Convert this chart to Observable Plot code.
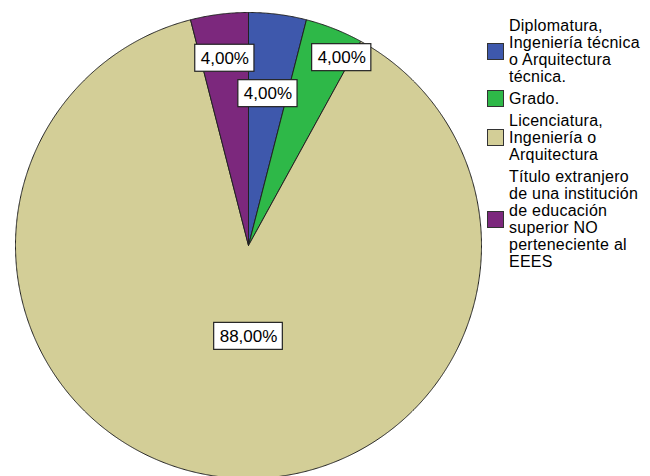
<!DOCTYPE html>
<html>
<head>
<meta charset="utf-8">
<script src="https://cdn.jsdelivr.net/npm/d3@7"></script>
<script src="https://cdn.jsdelivr.net/npm/@observablehq/plot@0.6"></script>
<style>
  html, body { margin: 0; padding: 0; background: #fff; }
  #wrap { position: relative; width: 650px; height: 476px; overflow: hidden; font-family: "Liberation Sans", Arial, sans-serif; }
  #legend { position: absolute; left: 487px; top: 0; }
  .item { position: absolute; left: 0; display: flex; align-items: center; }
  .sw { width: 15px; height: 15px; border: 1px solid #333; margin-right: 5px; flex: none; }
  .lt { font-size: 16px; line-height: 17px; letter-spacing: 0.25px; color: #000; white-space: nowrap; }
</style>
</head>
<body>
<div id="wrap"><div id="legend"></div></div>
<script>
// ---- data ----
const categories = [
  "Diplomatura, Ingeniería técnica o Arquitectura técnica.",
  "Grado.",
  "Licenciatura, Ingeniería o Arquitectura",
  "Título extranjero de una institución de educación superior NO perteneciente al EEES"
];
const legendLines = [
  ["Diplomatura,", "Ingeniería técnica", "o Arquitectura", "técnica."],
  ["Grado."],
  ["Licenciatura,", "Ingeniería o", "Arquitectura"],
  ["Título extranjero", "de una institución", "de educación", "superior NO", "perteneciente al", "EEES"]
];
const percents = [4, 4, 88, 4];
const percentLabels = ["4,00%", "4,00%", "88,00%", "4,00%"];
const colors = ["#3E58AC", "#2EB848", "#D3CE97", "#7C287D"];

// ---- layout ----
const W = 650, H = 476, CX = 248, CY = 245, R = 233;
const FONT = "17px 'Liberation Sans', Arial, sans-serif";
const labelPlace = [[0.657, 7.3], [0.90, 26.4], [0.39, 180], [0.81, -7.2]]; // [radius fraction, angle deg]
const boxH = 27 / R;
const legendTops = [17, 90, 112, 168];

const ctx = document.createElement("canvas").getContext("2d");
ctx.font = FONT;

const arcs = d3.pie().sort(null).value(d => d)(percents);
const slices = arcs.map((a, i) => {
  const pts = [{x: 0, y: 0}];
  const n = Math.max(2, Math.ceil((a.endAngle - a.startAngle) / 0.005));
  for (let k = 0; k <= n; k++) {
    const t = a.startAngle + (a.endAngle - a.startAngle) * k / n;
    pts.push({x: Math.sin(t), y: Math.cos(t)});
  }
  pts.push({x: 0, y: 0});
  return pts;
});

const labelData = percentLabels.map((text, i) => {
  const [r, deg] = labelPlace[i];
  const t = deg * Math.PI / 180;
  const w = (ctx.measureText(text).width + 11) / R;
  return {text, x: r * Math.sin(t), y: r * Math.cos(t), w};
});

const chart = Plot.plot({
  width: W, height: H,
  marginTop: 0, marginRight: 0, marginBottom: 0, marginLeft: 0,
  x: {domain: [-CX / R, (W - CX) / R], range: [0, W], axis: null},
  y: {domain: [-(H - CY) / R, CY / R], range: [H, 0], axis: null},
  style: {background: "transparent", fontFamily: "'Liberation Sans', Arial, sans-serif"},
  marks: [
    ...slices.map((pts, i) => Plot.line(pts, {x: "x", y: "y", fill: colors[i], stroke: "#222", strokeWidth: 1, strokeLinejoin: "round"})),
    Plot.rect(labelData, {x1: d => d.x - d.w / 2, x2: d => d.x + d.w / 2, y1: d => d.y - boxH / 2, y2: d => d.y + boxH / 2, fill: "white", stroke: "#222", strokeWidth: 1.2}),
    Plot.text(labelData, {x: "x", y: "y", text: "text", fontSize: 17, fill: "black"})
  ]
});
const wrap = document.getElementById("wrap");
chart.style.position = "absolute";
chart.style.left = "0";
chart.style.top = "0";
wrap.insertBefore(chart, wrap.firstChild);

const legend = document.getElementById("legend");
legendLines.forEach((lines, i) => {
  const item = document.createElement("div");
  item.className = "item";
  item.style.top = legendTops[i] + "px";
  const sw = document.createElement("div");
  sw.className = "sw";
  sw.style.background = colors[i];
  const lt = document.createElement("div");
  lt.className = "lt";
  lt.innerHTML = lines.join("<br>");
  item.appendChild(sw);
  item.appendChild(lt);
  legend.appendChild(item);
});
</script>
</body>
</html>
